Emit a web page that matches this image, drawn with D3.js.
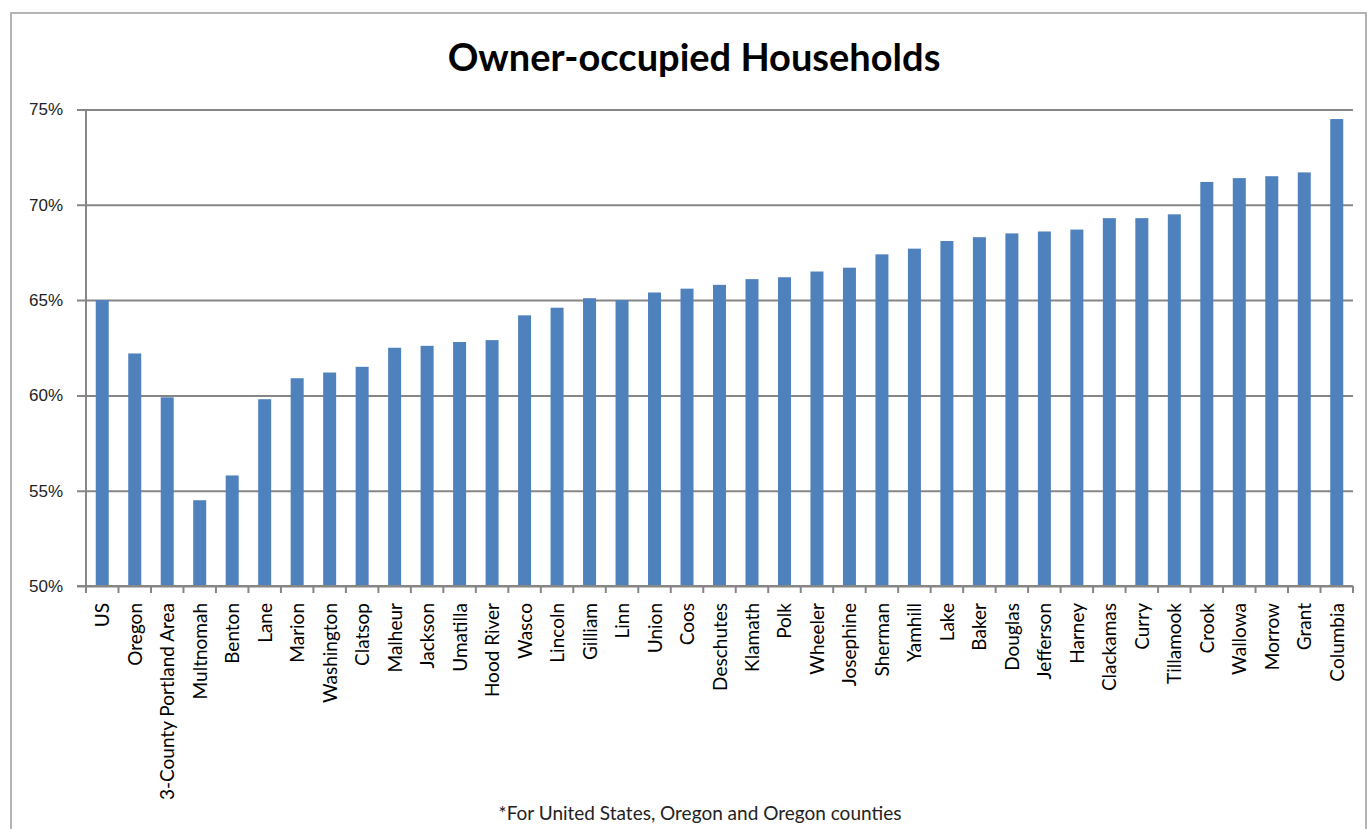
<!DOCTYPE html>
<html lang="en">
<head>
<meta charset="UTF-8">
<title>Owner-occupied Households</title>
<script src="https://d3js.org/d3.v7.min.js"></script>
<style>
    body { margin: 0; background: #fff; overflow: hidden; }
    svg { display: block; font-family: Lato, "Open Sans", sans-serif; }
    .title { font-size: 38px; font-weight: bold; fill: #000; text-anchor: middle; }
    .ylab text { font-size: 17px; fill: #222; }
    .xlab { font-size: 19px; fill: #000; }
    .note { font-size: 19px; fill: #222; text-anchor: middle; }
</style>
</head>
<body>
<svg id="chart" width="1369" height="829"></svg>
<script>
    // categories, left to right
    const places = ["US", "Oregon", "3-County Portland Area", "Multnomah", "Benton", "Lane", "Marion",
        "Washington", "Clatsop", "Malheur", "Jackson", "Umatilla", "Hood River", "Wasco", "Lincoln",
        "Gilliam", "Linn", "Union", "Coos", "Deschutes", "Klamath", "Polk", "Wheeler", "Josephine",
        "Sherman", "Yamhill", "Lake", "Baker", "Douglas", "Jefferson", "Harney", "Clackamas", "Curry",
        "Tillamook", "Crook", "Wallowa", "Morrow", "Grant", "Columbia"];

    // owner-occupied share, percent
    const ownerPct = [65.0, 62.2, 59.9, 54.5, 55.8, 59.8, 60.9,
        61.2, 61.5, 62.5, 62.6, 62.8, 62.9, 64.2, 64.6,
        65.1, 65.0, 65.4, 65.6, 65.8, 66.1, 66.2, 66.5, 66.7,
        67.4, 67.7, 68.1, 68.3, 68.5, 68.6, 68.7, 69.3, 69.3,
        69.5, 71.2, 71.4, 71.5, 71.7, 74.5];

    const yTicks = [50, 55, 60, 65, 70, 75];

    const svg = d3.select("#chart");
    const plotL = 86, plotR = 1353, plotT = 109.5, plotB = 586;

    // outer frame of the chart area
    svg.append("rect")
        .attr("x", 11).attr("y", 13)
        .attr("width", 1355).attr("height", 840)
        .attr("fill", "none")
        .attr("stroke", "#b4b4b4")
        .attr("stroke-width", 2);

    svg.append("text")
        .attr("class", "title")
        .attr("x", 694).attr("y", 71)
        .text("Owner-occupied Households");

    const x = d3.scaleBand()
        .domain(places)
        .range([plotL, plotR])
        .paddingInner(0.6)
        .paddingOuter(0.3);

    const y = d3.scaleLinear()
        .domain([50, 75])
        .range([plotB, plotT]);

    // gridlines + y labels
    const yAxis = svg.append("g")
        .attr("class", "ylab")
        .attr("transform", `translate(${plotL},0)`)
        .call(d3.axisLeft(y)
            .tickValues(yTicks)
            .tickSize(-(plotR - plotL))
            .tickSizeOuter(0)
            .tickPadding(23)
            .tickFormat(d => d + "%"));
    yAxis.select(".domain").remove();
    yAxis.selectAll(".tick line")
        .attr("x1", -9)
        .attr("stroke", "#868686")
        .attr("stroke-width", 2);

    // bars
    svg.append("g")
        .selectAll("rect")
        .data(places)
        .join("rect")
        .attr("x", d => x(d))
        .attr("width", x.bandwidth())
        .attr("y", (d, i) => y(ownerPct[i]))
        .attr("height", (d, i) => y(50) - y(ownerPct[i]))
        .attr("fill", "#4f81bd");

    // axis lines
    svg.append("line")
        .attr("x1", plotL).attr("x2", plotL)
        .attr("y1", plotT).attr("y2", plotB)
        .attr("stroke", "#868686").attr("stroke-width", 2);
    svg.append("line")
        .attr("x1", plotL - 9).attr("x2", plotR)
        .attr("y1", plotB).attr("y2", plotB)
        .attr("stroke", "#868686").attr("stroke-width", 2);

    // category boundary ticks
    const step = x.step();
    svg.append("g")
        .selectAll("line")
        .data(d3.range(places.length + 1))
        .join("line")
        .attr("x1", i => plotL + i * step)
        .attr("x2", i => plotL + i * step)
        .attr("y1", plotB)
        .attr("y2", plotB + 7)
        .attr("stroke", "#868686")
        .attr("stroke-width", 2);

    // rotated category labels
    svg.append("g")
        .selectAll("text")
        .data(places)
        .join("text")
        .attr("class", "xlab")
        .attr("text-anchor", "end")
        .attr("transform", d => `translate(${x(d) + x.bandwidth() / 2 + 7},${plotB + 17}) rotate(-90)`)
        .text(d => d);

    svg.append("text")
        .attr("class", "note")
        .attr("x", 700).attr("y", 820)
        .text("*For United States, Oregon and Oregon counties");
</script>
</body>
</html>
